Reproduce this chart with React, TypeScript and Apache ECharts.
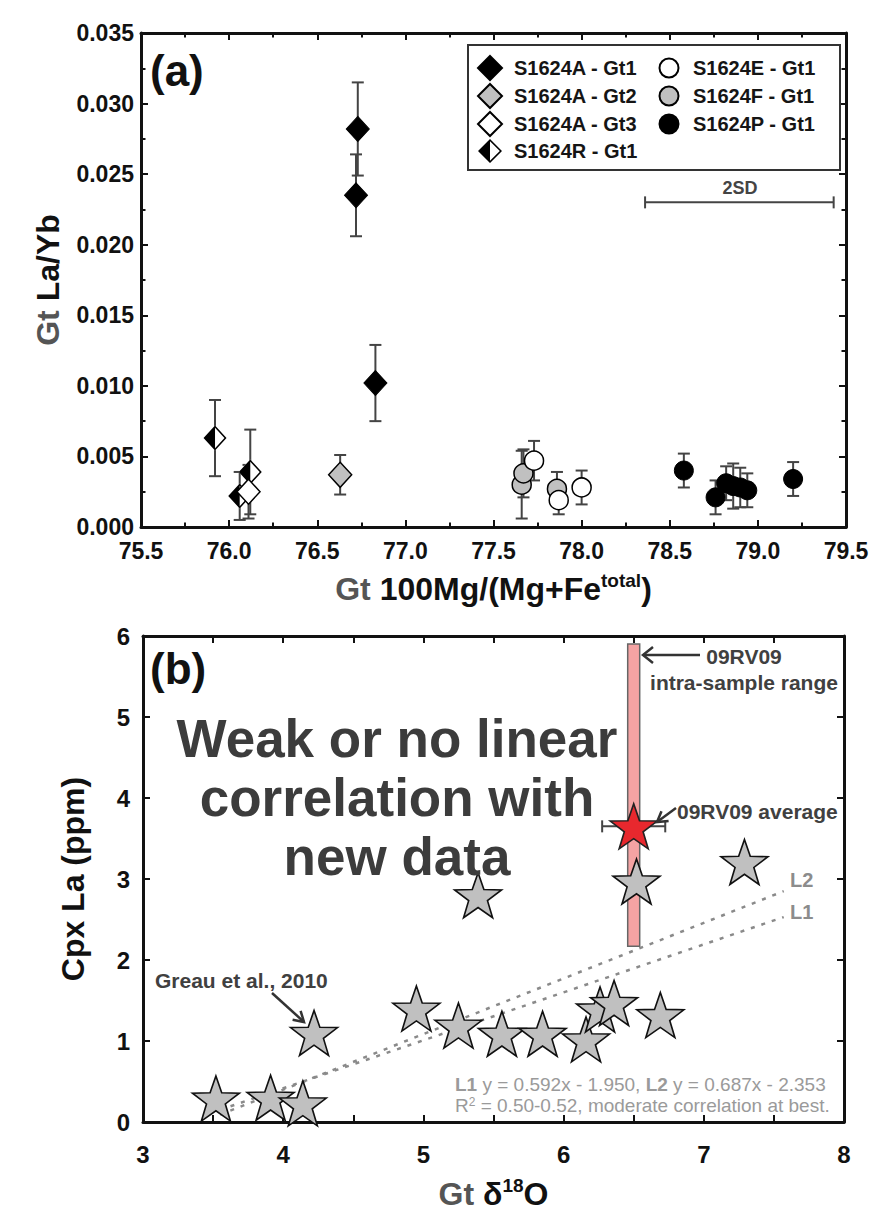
import React, { useEffect, useRef } from "react";
import * as echarts from "echarts";

const FONT = "'Liberation Sans', Arial, Helvetica, sans-serif";

// ---------------- Panel (a) data: Gt 100Mg/(Mg+Fe) vs Gt La/Yb ----------------
const aGt1X = [76.73, 76.72, 76.83];
const aGt1Y = [0.0282, 0.0235, 0.0102];
const aGt1E = [0.0033, 0.0029, 0.0027];

const aGt2X = [76.63];
const aGt2Y = [0.0037];
const aGt2E = [0.0014];

const aGt3X = [76.11];
const aGt3Y = [0.0025];
const aGt3E = [0.0019];

const rGt1X = [75.92, 76.06, 76.12];
const rGt1Y = [0.0063, 0.0022, 0.0039];
const rGt1E = [0.0027, 0.0017, 0.003];

const eGt1X = [77.73, 77.87, 78.0];
const eGt1Y = [0.0047, 0.0019, 0.0028];
const eGt1E = [0.0014, 0.001, 0.0012];

const fGt1X = [77.66, 77.67, 77.86];
const fGt1Y = [0.003, 0.0038, 0.0027];
const fGt1E = [0.0024, 0.0017, 0.0012];

const pGt1X = [78.58, 78.76, 78.82, 78.86, 78.9, 78.94, 79.2];
const pGt1Y = [0.004, 0.0021, 0.0031, 0.0029, 0.0028, 0.0026, 0.0034];
const pGt1E = [0.0012, 0.0012, 0.0012, 0.0016, 0.0014, 0.0012, 0.0012];

// 2SD bar: centre x, y, half width
const sd2Bar = [78.895, 0.023, 0.535];

const seriesNames = [
  "S1624A - Gt1",
  "S1624A - Gt2",
  "S1624A - Gt3",
  "S1624R - Gt1",
  "S1624E - Gt1",
  "S1624F - Gt1",
  "S1624P - Gt1",
];

// ---------------- Panel (b) data: Gt d18O vs Cpx La ----------------
const starX = [3.52, 3.91, 4.14, 4.22, 4.95, 5.25, 5.39, 5.56, 5.85, 6.16, 6.26, 6.36, 6.52, 6.69, 7.29];
const starY = [0.29, 0.3, 0.23, 1.1, 1.4, 1.19, 2.8, 1.09, 1.09, 1.02, 1.39, 1.47, 2.97, 1.32, 3.21];

const avgX = [6.5];
const avgY = [3.65];
const avgXErr = [0.225];

const rangeX = [6.5];
const rangeLo = [2.17];
const rangeHi = [5.9];

const l1X = [3.55, 7.57];
const l1Y = [0.15, 2.53];
const l2X = [3.55, 7.57];
const l2Y = [0.09, 2.85];

// ---------------- symbol shapes ----------------
const STAR =
  "path://M50,0 L61.76,33.82 L97.55,34.55 L69.02,56.18 L79.39,90.45 L50,70 L20.61,90.45 L30.98,56.18 L2.45,34.55 L38.24,33.82 Z";
const HALF_DIAMOND =
  "path://M50,0 L100,50 L50,100 L0,50 Z M50,9 L9,50 L50,91 L91,50 Z M50,9 L9,50 L50,91 Z";
const CIRCLE_PAD =
  "path://M0,0L0,0M24,24L24,24M2.5,12A9.5,9.5,0,1,1,21.5,12A9.5,9.5,0,1,1,2.5,12Z";

const pts = (xs: number[], ys: number[]) => xs.map((x, i) => [x, ys[i]]);
const errs = (xs: number[], ys: number[], es: number[]) => xs.map((x, i) => [x, ys[i], es[i]]);

const vErr = (cap: number, stroke: string, lw: number) => (_p: any, api: any) => {
  const x = api.value(0);
  const y = api.value(1);
  const e = api.value(2);
  const t = api.coord([x, y + e]);
  const b = api.coord([x, y - e]);
  const st = { stroke, lineWidth: lw };
  return {
    type: "group",
    children: [
      { type: "line", shape: { x1: t[0], y1: t[1], x2: b[0], y2: b[1] }, style: st },
      { type: "line", shape: { x1: t[0] - cap, y1: t[1], x2: t[0] + cap, y2: t[1] }, style: st },
      { type: "line", shape: { x1: b[0] - cap, y1: b[1], x2: b[0] + cap, y2: b[1] }, style: st },
    ],
  };
};

const hErr = (cap: number, stroke: string, lw: number) => (_p: any, api: any) => {
  const x = api.value(0);
  const y = api.value(1);
  const e = api.value(2);
  const l = api.coord([x - e, y]);
  const r = api.coord([x + e, y]);
  const st = { stroke, lineWidth: lw };
  return {
    type: "group",
    children: [
      { type: "line", shape: { x1: l[0], y1: l[1], x2: r[0], y2: r[1] }, style: st },
      { type: "line", shape: { x1: l[0], y1: l[1] - cap, x2: l[0], y2: l[1] + cap }, style: st },
      { type: "line", shape: { x1: r[0], y1: r[1] - cap, x2: r[0], y2: r[1] + cap }, style: st },
    ],
  };
};

const tickStyle = { color: "#111", width: 2 };

const baseAxis = (extra: any) => ({
  type: "value",
  splitLine: { show: false },
  minorSplitLine: { show: false },
  axisLine: { show: true, onZero: false, lineStyle: { color: "#111", width: 3 } },
  axisTick: { show: true, inside: true, length: 7, lineStyle: tickStyle },
  ...extra,
});

const NAME_SIZE = 32;
const nameRich = {
  g: { color: "#555", fontSize: NAME_SIZE, fontWeight: "bold", fontFamily: FONT, lineHeight: 36 },
  k: { color: "#111", fontSize: NAME_SIZE, fontWeight: "bold", fontFamily: FONT, lineHeight: 36 },
  s: { color: "#111", fontSize: 19, fontWeight: "bold", fontFamily: FONT, verticalAlign: "top", lineHeight: 20 },
};

const labelStyle = (size: number, margin: number, fmt: (v: number) => string) => ({
  show: true,
  fontSize: size,
  fontWeight: "bold",
  fontFamily: FONT,
  color: "#111",
  margin,
  formatter: fmt,
});

const txt = (x: number, y: number, text: string, size: number, color: string, align = "left", bold = true) => ({
  type: "text",
  x,
  y,
  silent: true,
  z: 20,
  style: {
    text,
    fill: color,
    fontSize: size,
    fontWeight: bold ? "bold" : "normal",
    fontFamily: FONT,
    align,
    verticalAlign: "middle",
  },
});

const arrowLine = (x1: number, y1: number, x2: number, y2: number) => ({
  type: "line",
  silent: true,
  z: 20,
  shape: { x1, y1, x2, y2 },
  style: { stroke: "#333", lineWidth: 2.5 },
});

const arrowHead = (points: number[][]) => ({
  type: "polyline",
  silent: true,
  z: 20,
  shape: { points },
  style: { stroke: "#333", lineWidth: 2.5, fill: null },
});

function buildOption(): any {
  const eqRich = {
    n: { fontSize: 19, fontFamily: FONT, color: "#9a9a9a", fill: "#9a9a9a" },
    b: { fontSize: 19, fontFamily: FONT, fontWeight: "bold", color: "#9a9a9a", fill: "#9a9a9a" },
    s: { fontSize: 12, fontFamily: FONT, color: "#9a9a9a", fill: "#9a9a9a", verticalAlign: "top" },
  };
  const nameStyle = { fontSize: NAME_SIZE, fontWeight: "bold", fontFamily: FONT, rich: nameRich };

  return {
    animation: false,
    backgroundColor: "#ffffff",
    textStyle: { fontFamily: FONT },
    grid: [
      { left: 141, top: 33, width: 705, height: 494, containLabel: false, outerBoundsMode: "none" },
      { left: 143, top: 636, width: 701, height: 486, containLabel: false, outerBoundsMode: "none" },
    ],
    xAxis: [
      baseAxis({
        gridIndex: 0,
        position: "bottom",
        min: 75.5,
        max: 79.5,
        interval: 0.5,
        minorTick: { show: true, splitNumber: 2, length: 4.5, lineStyle: tickStyle },
        axisLabel: labelStyle(23, 12, (v: number) => v.toFixed(1)),
        name: "{g|Gt} {k|100Mg/(Mg+Fe}{s|total}{k|)}",
        nameLocation: "middle",
        nameGap: 44,
        nameTextStyle: nameStyle,
      }),
      baseAxis({
        gridIndex: 0,
        position: "top",
        min: 75.5,
        max: 79.5,
        interval: 0.5,
        minorTick: { show: true, splitNumber: 2, length: 4.5, lineStyle: tickStyle },
        axisLabel: { show: false },
      }),
      baseAxis({
        gridIndex: 1,
        position: "bottom",
        min: 3,
        max: 8,
        interval: 1,
        minorTick: { show: true, splitNumber: 2, length: 7, lineStyle: tickStyle },
        axisLabel: labelStyle(24, 20, (v: number) => String(Math.round(v))),
        name: "{g|Gt} {k|δ}{s|18}{k|O}",
        nameLocation: "middle",
        nameGap: 54,
        nameTextStyle: nameStyle,
      }),
      baseAxis({
        gridIndex: 1,
        position: "top",
        min: 3,
        max: 8,
        interval: 1,
        minorTick: { show: true, splitNumber: 2, length: 7, lineStyle: tickStyle },
        axisLabel: { show: false },
      }),
    ],
    yAxis: [
      baseAxis({
        gridIndex: 0,
        position: "left",
        min: 0,
        max: 0.035,
        interval: 0.005,
        minorTick: { show: true, splitNumber: 2, length: 4.5, lineStyle: tickStyle },
        axisLabel: labelStyle(23, 7, (v: number) => v.toFixed(3)),
        name: "{g|Gt} {k|La/Yb}",
        nameLocation: "middle",
        nameGap: 75,
        nameTextStyle: nameStyle,
      }),
      baseAxis({
        gridIndex: 0,
        position: "right",
        min: 0,
        max: 0.035,
        interval: 0.005,
        minorTick: { show: true, splitNumber: 2, length: 4.5, lineStyle: tickStyle },
        axisLabel: { show: false },
      }),
      baseAxis({
        gridIndex: 1,
        position: "left",
        min: 0,
        max: 6,
        interval: 1,
        axisLabel: labelStyle(24, 13, (v: number) => String(Math.round(v))),
        name: "{k|Cpx La (ppm)}",
        nameLocation: "middle",
        nameGap: 52,
        nameTextStyle: nameStyle,
      }),
      baseAxis({
        gridIndex: 1,
        position: "right",
        min: 0,
        max: 6,
        interval: 1,
        axisLabel: { show: false },
      }),
    ],
    legend: {
      orient: "vertical",
      left: 468,
      top: 45,
      height: 116,
      padding: [10, 7, 7, 9],
      itemWidth: 24,
      itemHeight: 24,
      itemGap: 2,
      selectedMode: false,
      borderColor: "#333",
      borderWidth: 2,
      backgroundColor: "#fff",
      textStyle: {
        fontSize: 20,
        fontWeight: "bold",
        fontFamily: FONT,
        color: "#151515",
        width: 140,
        lineHeight: 24,
        padding: [0, 0, 0, 7],
      },
      data: [
        { name: seriesNames[0], icon: "diamond" },
        { name: seriesNames[1], icon: "diamond" },
        { name: seriesNames[2], icon: "diamond" },
        { name: seriesNames[3], icon: HALF_DIAMOND },
        { name: seriesNames[4], icon: CIRCLE_PAD },
        { name: seriesNames[5], icon: CIRCLE_PAD },
        { name: seriesNames[6], icon: CIRCLE_PAD },
      ],
    },
    graphic: [
      txt(150, 70, "(a)", 44, "#111"),
      txt(150, 668, "(b)", 44, "#111"),
      txt(740, 188, "2SD", 18, "#444", "center"),
      txt(397, 738, "Weak or no linear", 53, "#3c3c3c", "center"),
      txt(397, 797, "correlation with", 53, "#3c3c3c", "center"),
      txt(397, 856, "new data", 53, "#3c3c3c", "center"),
      txt(744, 656, "09RV09", 21, "#404040", "center"),
      txt(744, 682, "intra-sample range", 21, "#404040", "center"),
      txt(677, 811, "09RV09 average", 21, "#404040"),
      txt(155, 980, "Greau et al., 2010", 21, "#404040"),
      txt(790, 880, "L2", 20, "#8c8c8c"),
      txt(790, 912, "L1", 20, "#8c8c8c"),
      {
        type: "text",
        x: 455,
        y: 1084,
        silent: true,
        z: 20,
        style: {
          text: "{b|L1}{n| y = 0.592x - 1.950, }{b|L2}{n| y = 0.687x - 2.353}",
          rich: eqRich,
          fontSize: 19,
          fontFamily: FONT,
          fill: "#9a9a9a",
          align: "left",
          verticalAlign: "middle",
        },
      },
      {
        type: "text",
        x: 455,
        y: 1105,
        silent: true,
        z: 20,
        style: {
          text: "{n|R}{s|2}{n| = 0.50-0.52, moderate correlation at best.}",
          rich: eqRich,
          fontSize: 19,
          fontFamily: FONT,
          fill: "#9a9a9a",
          align: "left",
          verticalAlign: "middle",
        },
      },
      arrowLine(700, 655, 643, 655),
      arrowHead([[653, 647], [643, 655], [653, 663]]),
      arrowLine(676, 808, 657, 822),
      arrowHead([[668.6, 820.9], [657, 822], [661.5, 811.2]]),
      arrowLine(272, 993, 304, 1022),
      arrowHead([[292.6, 1019.7], [304, 1022], [300.6, 1010.8]]),
    ],
    series: [
      // ---------- panel (a) ----------
      {
        type: "custom",
        name: "errA",
        xAxisIndex: 0,
        yAxisIndex: 0,
        z: 3,
        silent: true,
        renderItem: vErr(6, "#444", 2),
        encode: { x: 0, y: 1 },
        data: [
          ...errs(aGt1X, aGt1Y, aGt1E),
          ...errs(aGt2X, aGt2Y, aGt2E),
          ...errs(aGt3X, aGt3Y, aGt3E),
          ...errs(rGt1X, rGt1Y, rGt1E),
          ...errs(eGt1X, eGt1Y, eGt1E),
          ...errs(fGt1X, fGt1Y, fGt1E),
          ...errs(pGt1X, pGt1Y, pGt1E),
        ],
      },
      {
        type: "custom",
        name: "sd2",
        xAxisIndex: 0,
        yAxisIndex: 0,
        z: 3,
        silent: true,
        renderItem: hErr(6, "#444", 2),
        encode: { x: 0, y: 1 },
        data: [sd2Bar],
      },
      {
        type: "scatter",
        name: seriesNames[1],
        xAxisIndex: 0,
        yAxisIndex: 0,
        z: 5,
        symbol: "diamond",
        symbolSize: [23, 25],
        itemStyle: { color: "#c0c0c0", borderColor: "#000", borderWidth: 1.5, opacity: 1 },
        data: pts(aGt2X, aGt2Y),
      },
      {
        type: "scatter",
        name: "rbg",
        xAxisIndex: 0,
        yAxisIndex: 0,
        z: 5,
        symbol: "diamond",
        symbolSize: [23, 25],
        itemStyle: { color: "#fff", borderWidth: 0, opacity: 1 },
        data: pts(rGt1X, rGt1Y),
      },
      {
        type: "scatter",
        name: seriesNames[3],
        xAxisIndex: 0,
        yAxisIndex: 0,
        z: 5,
        symbol: HALF_DIAMOND,
        symbolSize: [23, 25],
        itemStyle: { color: "#000", borderWidth: 0, opacity: 1 },
        data: pts(rGt1X, rGt1Y),
      },
      {
        type: "scatter",
        name: seriesNames[2],
        xAxisIndex: 0,
        yAxisIndex: 0,
        z: 5,
        symbol: "diamond",
        symbolSize: [23, 25],
        itemStyle: { color: "#fff", borderColor: "#000", borderWidth: 1.5, opacity: 1 },
        data: pts(aGt3X, aGt3Y),
      },
      {
        type: "scatter",
        name: seriesNames[0],
        xAxisIndex: 0,
        yAxisIndex: 0,
        z: 5,
        symbol: "diamond",
        symbolSize: [23, 25],
        itemStyle: { color: "#000", borderColor: "#000", borderWidth: 1, opacity: 1 },
        data: pts(aGt1X, aGt1Y),
      },
      {
        type: "scatter",
        name: seriesNames[5],
        xAxisIndex: 0,
        yAxisIndex: 0,
        z: 5,
        symbol: "circle",
        symbolSize: 19,
        itemStyle: { color: "#c0c0c0", borderColor: "#000", borderWidth: 1.5, opacity: 1 },
        data: pts(fGt1X, fGt1Y),
      },
      {
        type: "scatter",
        name: seriesNames[4],
        xAxisIndex: 0,
        yAxisIndex: 0,
        z: 5,
        symbol: "circle",
        symbolSize: 19,
        itemStyle: { color: "#fff", borderColor: "#000", borderWidth: 1.5, opacity: 1 },
        data: pts(eGt1X, eGt1Y),
      },
      {
        type: "scatter",
        name: seriesNames[6],
        xAxisIndex: 0,
        yAxisIndex: 0,
        z: 5,
        symbol: "circle",
        symbolSize: 19,
        itemStyle: { color: "#000", borderColor: "#000", borderWidth: 1, opacity: 1 },
        data: pts(pGt1X, pGt1Y),
      },
      // ---------- panel (b) ----------
      {
        type: "custom",
        name: "range",
        xAxisIndex: 2,
        yAxisIndex: 2,
        z: 1,
        silent: true,
        encode: { x: 0, y: 1 },
        renderItem: (_p: any, api: any) => {
          const x = api.value(0);
          const top = api.coord([x, api.value(2)]);
          const bot = api.coord([x, api.value(1)]);
          return {
            type: "rect",
            shape: { x: top[0] - 6, y: top[1], width: 12, height: bot[1] - top[1] },
            style: { fill: "#f4a3a3", stroke: "#666", lineWidth: 1.5 },
          };
        },
        data: rangeX.map((x, i) => [x, rangeLo[i], rangeHi[i]]),
      },
      {
        type: "line",
        name: "L1",
        xAxisIndex: 2,
        yAxisIndex: 2,
        z: 2,
        silent: true,
        symbol: "none",
        lineStyle: { color: "#8a8a8a", width: 2.5, type: [4, 7] },
        data: pts(l1X, l1Y),
      },
      {
        type: "line",
        name: "L2",
        xAxisIndex: 2,
        yAxisIndex: 2,
        z: 2,
        silent: true,
        symbol: "none",
        lineStyle: { color: "#8a8a8a", width: 2.5, type: [4, 7] },
        data: pts(l2X, l2Y),
      },
      {
        type: "scatter",
        name: "stars",
        xAxisIndex: 2,
        yAxisIndex: 2,
        z: 5,
        symbol: STAR,
        symbolSize: [47, 45],
        itemStyle: { color: "#c0c0c0", borderColor: "#111", borderWidth: 1.6, opacity: 1 },
        data: pts(starX, starY),
      },
      {
        type: "custom",
        name: "avgErr",
        xAxisIndex: 2,
        yAxisIndex: 2,
        z: 6,
        silent: true,
        encode: { x: 0, y: 1 },
        renderItem: hErr(6, "#444", 2),
        data: errs(avgX, avgY, avgXErr),
      },
      {
        type: "scatter",
        name: "average",
        xAxisIndex: 2,
        yAxisIndex: 2,
        z: 7,
        symbol: STAR,
        symbolSize: [47, 45],
        itemStyle: { color: "#e8282e", borderColor: "#222", borderWidth: 1.6, opacity: 1 },
        data: pts(avgX, avgY),
      },
    ],
  };
}

export default function App() {
  const ref = useRef<HTMLDivElement>(null);
  useEffect(() => {
    if (!ref.current) return;
    const chart = echarts.init(ref.current, undefined, { renderer: "svg" });
    chart.setOption(buildOption());
    return () => {
      chart.dispose();
    };
  }, []);
  return (
    <div
      ref={ref}
      style={{ position: "absolute", left: 0, top: 0, width: 873, height: 1211, background: "#fff" }}
    />
  );
}
